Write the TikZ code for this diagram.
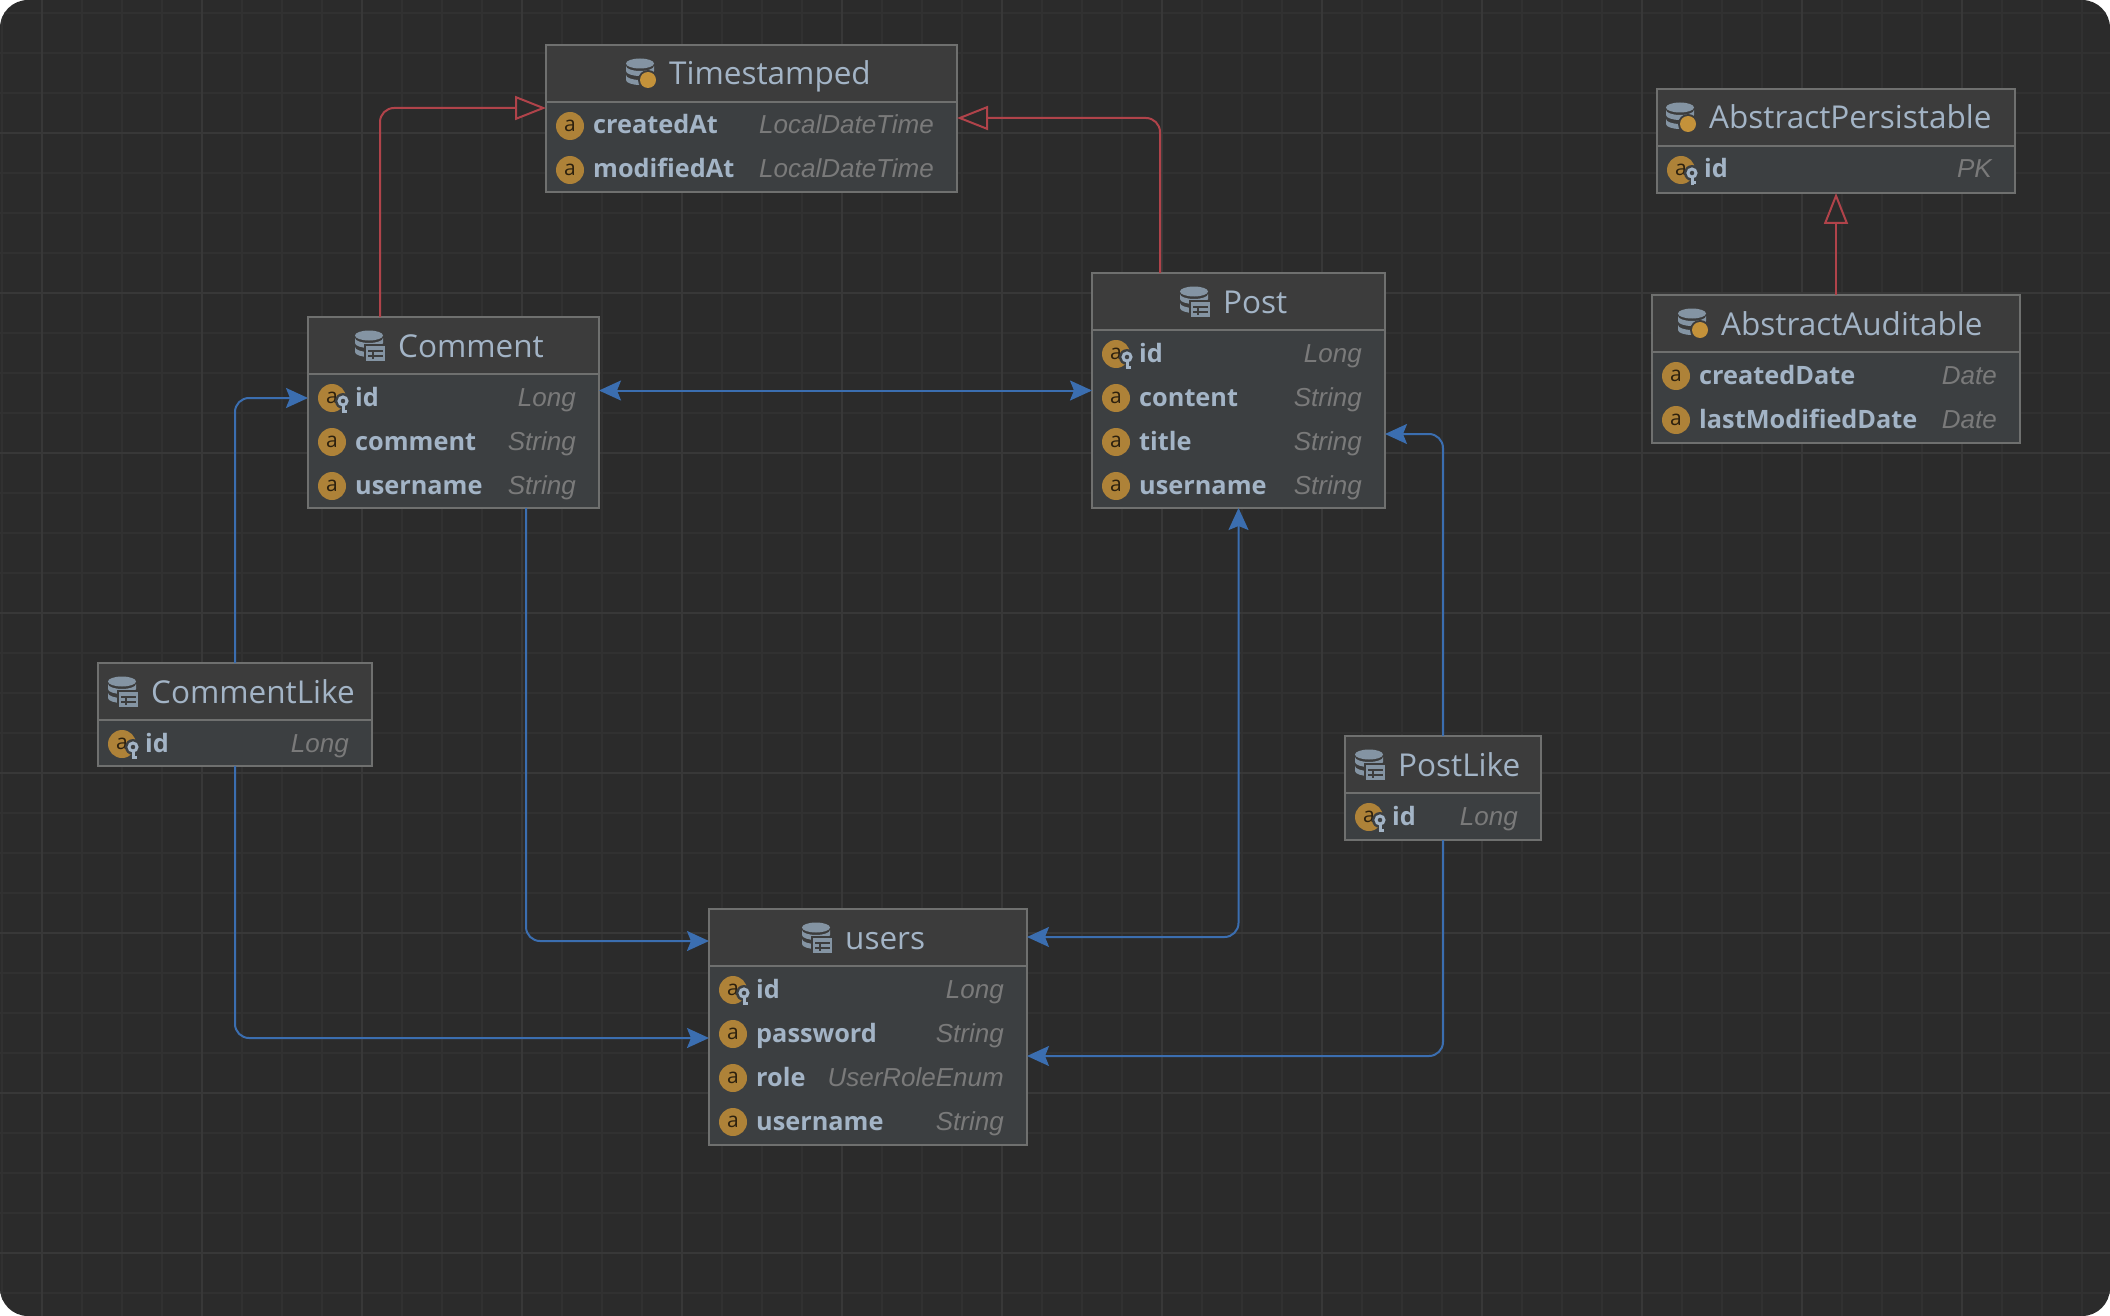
\documentclass[tikz,border=0pt]{standalone}
\usepackage{fontspec}
\setmainfont{Open Sans}
\newfontfamily\typefont{Liberation Sans}
\usepackage{xcolor}
\usetikzlibrary{arrows.meta, positioning, calc}

\definecolor{canvasbg}{HTML}{2B2B2B}
\definecolor{gridminor}{HTML}{313131}
\definecolor{gridmajor}{HTML}{383838}
\definecolor{tablefill}{HTML}{3C3F41}
\definecolor{headfill}{HTML}{3C3C3C}
\definecolor{tableline}{HTML}{6F706F}
\definecolor{titletext}{HTML}{A3B4C6}
\definecolor{typetext}{HTML}{7A7A7A}
\definecolor{attrorange}{HTML}{AE8238}
\definecolor{dotorange}{HTML}{C4923A}
\definecolor{dbgray}{HTML}{8494A3}
\definecolor{assocblue}{HTML}{3B6EB0}
\definecolor{inheritred}{HTML}{B0434A}

\tikzset{
  tablebox/.style={draw=tableline, line width=2pt, fill=tablefill, anchor=north west, inner sep=0pt, outer sep=0pt},
  titletxt/.style={anchor=base west, inner sep=0pt, text=titletext, font=\fontsize{31.5}{31.5}\selectfont},
  attricon/.style={circle, fill=attrorange, minimum size=28pt, inner sep=0pt, text=black!75!attrorange, font=\fontsize{21}{21}\selectfont},
  attrname/.style={anchor=base west, inner sep=0pt, text=titletext, font=\fontsize{25.3}{25.3}\selectfont\bfseries},
  attrtype/.style={anchor=base east, inner sep=0pt, text=typetext, font=\typefont\fontsize{26}{26}\selectfont\itshape},
  assoc/.style={draw=assocblue, line width=2pt, rounded corners=14pt, {Stealth[length=22pt,width=20pt,inset=4pt]}-{Stealth[length=22pt,width=20pt,inset=4pt]}},
  assocto/.style={draw=assocblue, line width=2pt, rounded corners=14pt, -{Stealth[length=22pt,width=20pt,inset=4pt]}},
  inherit/.style={draw=inheritred, line width=2pt, rounded corners=14pt, -{Triangle[open, length=31pt, width=24pt, fill=canvasbg]}},
}

% table frame: name, left, top, right, bottom, title, title left
\newcommand{\dbtable}[7]{
  \path let \p1=(#2+1,#3+1), \p2=(#4-1,#5-1), \n1={\x2-\x1}, \n2={\y1-\y2} in
    node[tablebox, minimum width=\n1, minimum height=\n2] (#1) at (\p1) {};
  \fill[headfill] ($(#1.north west)+(1,1)$) rectangle ($(#1.north east)+(-1,56)$);
  \draw[tableline, line width=2pt] ($(#1.north west)+(0,57)$) -- ($(#1.north east)+(0,57)$);
  \node[titletxt] (#1-title) at (#7,#3+41) {#6};
  \fill[dbgray] (#7-29,#3+19.5) ellipse (14pt and 5pt);
  \fill[dbgray] (#7-15,#3+27) arc (0:-180:14pt and 5pt) -- ++(0,-5) arc (-180:0:14pt and 5pt) -- cycle;
  \fill[dbgray] (#7-15,#3+36) arc (0:-180:14pt and 5pt) -- ++(0,-5) arc (-180:0:14pt and 5pt) -- cycle;
}
% orange dot of a mapped superclass
\newcommand{\dbdot}[2]{
  \fill[headfill] (#1-21,#2+36) circle (10pt);
  \fill[dotorange] (#1-21,#2+36) circle (8pt);
}
% small table sign of an entity
\newcommand{\dbgrid}[2]{
  \fill[headfill] (#1-34,#2+28) rectangle (#1-11,#2+47);
  \fill[dbgray] (#1-32,#2+30) rectangle (#1-13,#2+45);
  \draw[headfill, line width=1.5pt] (#1-30,#2+35) -- (#1-15,#2+35) (#1-30,#2+40) -- (#1-15,#2+40) (#1-25,#2+35) -- (#1-25,#2+43);
}
% attribute row: name, box, row centre, label, type
\newcommand{\attr}[5]{
  \node[attricon] (#1-icon) at ($(#2.west |- 0,#3)+(24,0)$) {a};
  \node[attrname] (#1-name) at ($(#2.west |- 0,#3)+(47,8)$) {#4};
  \node[attrtype] (#1-type) at ($(#2.east |- 0,#3)+(-23,8)$) {#5};
}
% the same row with the key sign
\newcommand{\keyattr}[5]{
  \attr{#1}{#2}{#3}{#4}{#5}
  \fill[tablefill] ($(#2.west |- 0,#3)+(35,3)$) circle (8pt);
  \draw[titletext, line width=3pt] ($(#2.west |- 0,#3)+(35,3)$) circle (4pt);
  \draw[titletext, line width=3pt] ($(#2.west |- 0,#3)+(35,8)$) -- ++(0,7) ++(-1.5,-2) -- ++(5,0);
}

\begin{document}
\begin{tikzpicture}[x=1pt, y=-1pt]

\useasboundingbox (0,0) rectangle (2110,1316);
\fill[white] (0,0) rectangle (2110,1316);

% Canvas and grid
\begin{scope}
\clip[rounded corners=28pt] (0,0) rectangle (2110,1316);
\fill[canvasbg] (0,0) rectangle (2110,1316);
\foreach \gx in {2,42,...,2110} {\draw[gridminor, line width=1.5pt] (\gx,0) -- (\gx,1316);}
\foreach \gy in {13,53,...,1316} {\draw[gridminor, line width=1.5pt] (0,\gy) -- (2110,\gy);}
\foreach \gx in {42,202,...,2110} {\draw[gridmajor, line width=2pt] (\gx,0) -- (\gx,1316);}
\foreach \gy in {133,293,...,1316} {\draw[gridmajor, line width=2pt] (0,\gy) -- (2110,\gy);}
\end{scope}

% Tables

\dbtable{timestamped}{545}{44}{958}{193}{Timestamped}{669}
\dbdot{669}{44}
\attr{tsCreated}{timestamped}{126}{createdAt}{LocalDateTime}
\attr{tsModified}{timestamped}{170}{modifiedAt}{LocalDateTime}

\dbtable{comment}{307}{316}{600}{509}{Comment}{398}
\dbgrid{398}{316}
\keyattr{cmtId}{comment}{398}{id}{Long}
\attr{cmtComment}{comment}{442}{comment}{String}
\attr{cmtUser}{comment}{486}{username}{String}

\dbtable{post}{1091}{272}{1386}{509}{Post}{1223}
\dbgrid{1223}{272}
\keyattr{postId}{post}{354}{id}{Long}
\attr{postContent}{post}{398}{content}{String}
\attr{postTitle}{post}{442}{title}{String}
\attr{postUser}{post}{486}{username}{String}

\dbtable{commentlike}{97}{662}{373}{767}{CommentLike}{151}
\dbgrid{151}{662}
\keyattr{clId}{commentlike}{744}{id}{Long}

\dbtable{postlike}{1344}{735}{1542}{841}{PostLike}{1398}
\dbgrid{1398}{735}
\keyattr{plId}{postlike}{817}{id}{Long}

\dbtable{users}{708}{908}{1028}{1146}{users}{845}
\dbgrid{845}{908}
\keyattr{usrId}{users}{990}{id}{Long}
\attr{usrPass}{users}{1034}{password}{String}
\attr{usrRole}{users}{1078}{role}{UserRoleEnum}
\attr{usrName}{users}{1122}{username}{String}

\dbtable{persistable}{1656}{88}{2016}{194}{AbstractPersistable}{1709}
\dbdot{1709}{88}
\keyattr{apId}{persistable}{170}{id}{PK}

\dbtable{auditable}{1651}{294}{2021}{444}{AbstractAuditable}{1721}
\dbdot{1721}{294}
\attr{aaCreated}{auditable}{376}{createdDate}{Date}
\attr{aaModified}{auditable}{420}{lastModifiedDate}{Date}

% Inheritance
\draw[inherit] ($(comment.north)+(-73.5,0)$) |- ($(timestamped.west)+(0,-10.5)$);
\draw[inherit] ($(post.north)+(-78.5,0)$) |- ($(timestamped.east)+(0,-0.5)$);
\draw[inherit] (auditable.north) -- (persistable.south);

% Associations
\draw[assoc] ($(comment.east)+(0,-22)$) -- (post.west);
\draw[assoc] (users.east |- 0,937) -| (post.south);

\draw[assocto] (commentlike.north) |- ($(comment.west)+(0,-14.5)$);
\draw[assocto] (commentlike.south) |- (users.west |- 0,1038);
\draw[assocto] ($(comment.south)+(72.5,0)$) |- (users.west |- 0,941);
\draw[assocto] (postlike.north) |- ($(post.east)+(0,43.5)$);
\draw[assocto] (postlike.south) |- (users.east |- 0,1056);

\end{tikzpicture}
\end{document}
